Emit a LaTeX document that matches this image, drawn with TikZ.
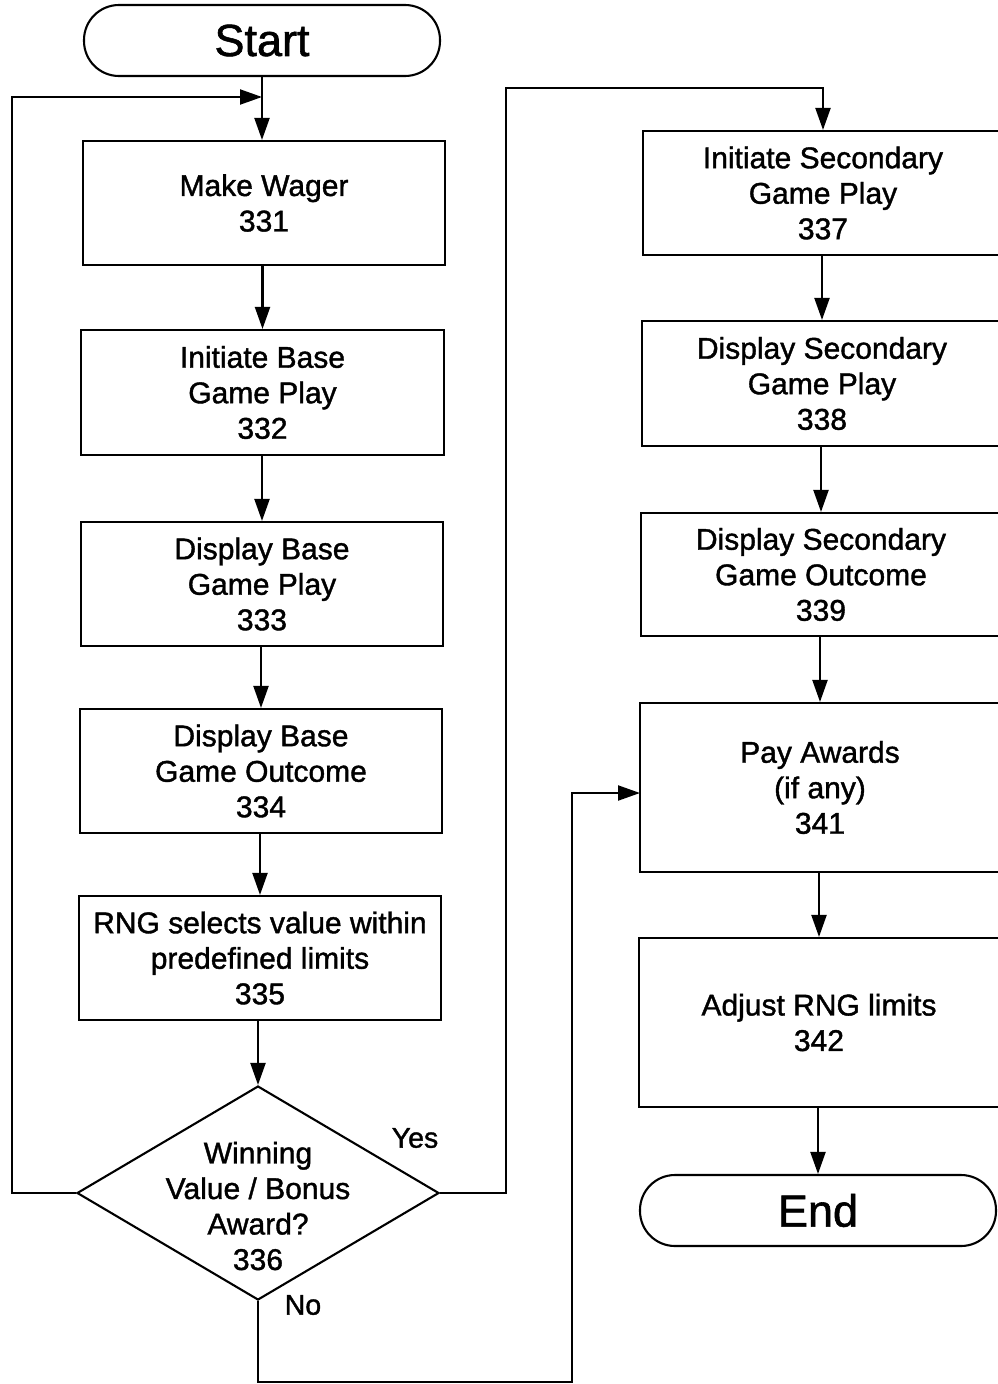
\documentclass[tikz,border=0pt]{standalone}
\usepackage{fontspec}
\setmainfont{Liberation Sans}
\newfontfamily\thickfont{Liberation Sans}[RawFeature={embolden=1.3}]
\usetikzlibrary{arrows.meta,shapes.geometric}
\begin{document}
\begin{tikzpicture}[x=1pt,y=-1pt,
  line width=2.1pt,
  txt/.style={font=\thickfont\fontsize{30}{35.5}\selectfont, align=center},
  stepbox/.style={draw, rectangle, txt, minimum width=360pt, minimum height=124pt, inner sep=0pt},
  tallbox/.style={stepbox, minimum height=169pt},
  term/.style={draw, rectangle, rounded corners=35pt, minimum width=356pt, minimum height=71pt, inner sep=0pt, font=\thickfont\fontsize{45}{50}\selectfont},
  lbl/.style={font=\thickfont\fontsize{28.5}{34}\selectfont, inner sep=0pt},
  arr/.style={-{Triangle[length=22pt,width=15pt]}},
]
\useasboundingbox (0,0) rectangle (997,1384);

\node[term] (start) at (262,40.5) {Start};
\node[stepbox, minimum width=362pt] (b331) at (264,203) {Make Wager\\331};
\node[stepbox, minimum width=363pt, minimum height=125pt] (b332) at (262.5,392.5) {Initiate Base\\Game Play\\332};
\node[stepbox, minimum width=362pt] (b333) at (262,584) {Display Base\\Game Play\\333};
\node[stepbox, minimum width=362pt] (b334) at (261,771) {Display Base\\Game Outcome\\334};
\node[stepbox, minimum width=362pt] (b335) at (260,958) {RNG selects value within\\predefined limits\\335};
\node[draw, diamond, minimum width=362pt, minimum height=214pt, inner sep=0pt] (d336) at (258,1193) {};
\node[txt, inner sep=0pt] (d336t) at (258,1206) {Winning\\Value / Bonus\\Award?\\336};

\node[stepbox] (b337) at (823,193) {Initiate Secondary\\Game Play\\337};
\node[stepbox, minimum height=125pt] (b338) at (822,383.5) {Display Secondary\\Game Play\\338};
\node[stepbox, minimum height=123pt] (b339) at (821,574.5) {Display Secondary\\Game Outcome\\339};
\node[tallbox] (b341) at (820,787.5) {Pay Awards\\(if any)\\341};
\node[tallbox] (b342) at (819,1022.5) {Adjust RNG limits\\342};
\node[term] (end) at (818,1210.5) {End};

\node[lbl] (yes) at (415,1138) {Yes};
\node[lbl] (no) at (303,1305) {No};

\coordinate (j) at (262,97);
\coordinate (l1) at (12,1193);
\coordinate (l2) at (12,97);
\coordinate (y1) at (506,1193);
\coordinate (y2) at (506,88);
\coordinate (y3) at (823,88);
\coordinate (n1) at (258,1382);
\coordinate (n2) at (572,1382);
\coordinate (n3) at (572,793);
\coordinate (n4) at (640,793);

\draw[arr] (start) -- (b331.north -| start.south);
\draw[arr] (b331.south -| b332.north) -- (b332.north);
\draw[arr] (b332.south -| b333.north) -- (b333.north);
\draw[arr] (b333.south -| b334.north) -- (b334.north);
\draw[arr] (b334.south -| b335.north) -- (b335.north);
\draw[arr] (b335.south -| d336.north) -- (d336.north);
\draw[arr] (d336.west) -- (l1) -- (l2) -- (j);
\draw[arr] (d336.east) -- (y1) -- (y2) -- (y3) -- (b337.north);
\draw[arr] (d336.south) -- (n1) -- (n2) -- (n3) -- (n4);
\draw[arr] (b337.south -| b338.north) -- (b338.north);
\draw[arr] (b338.south -| b339.north) -- (b339.north);
\draw[arr] (b339.south -| b341.north) -- (b341.north);
\draw[arr] (b341.south -| b342.north) -- (b342.north);
\draw[arr] (b342.south -| end.north) -- (end.north);
\end{tikzpicture}
\end{document}
